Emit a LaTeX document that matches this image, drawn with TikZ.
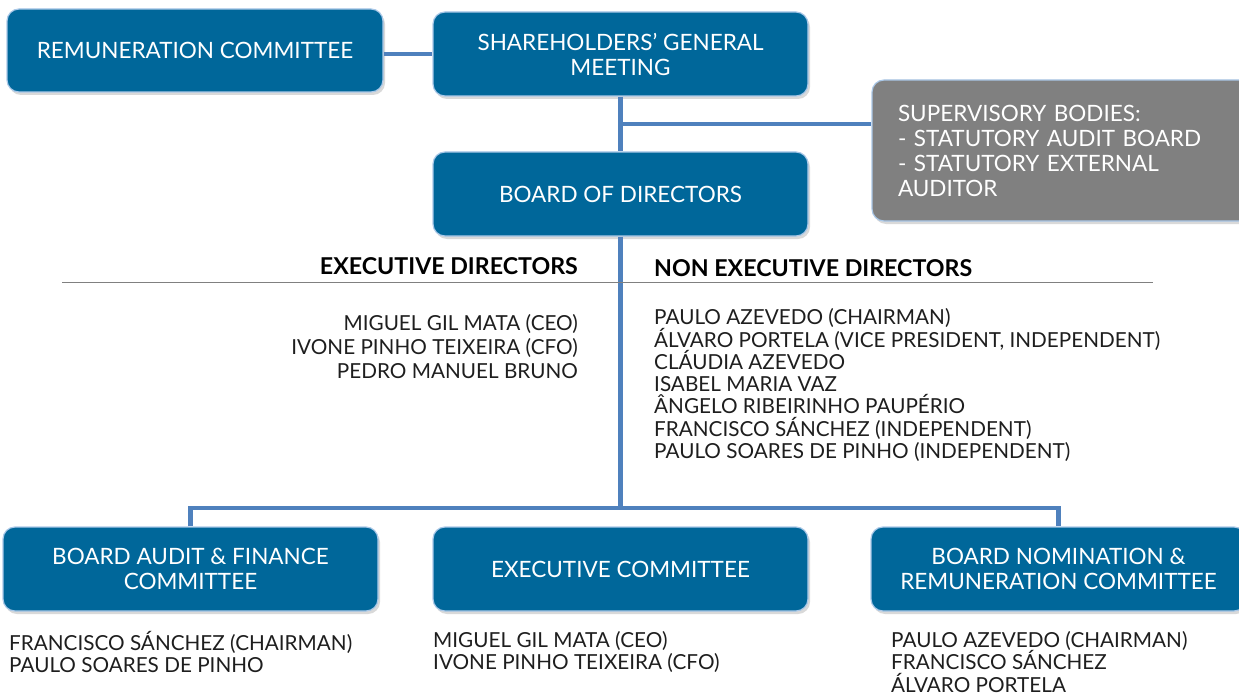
\documentclass[tikz,border=0pt]{standalone}
\usepackage{fontspec}
\setmainfont{Lato}
\usepackage{xcolor}
\usetikzlibrary{positioning,calc,shadows}

\definecolor{boxblue}{RGB}{0,103,154}
\definecolor{linkblue}{RGB}{79,129,189}
\definecolor{edgeblue}{RGB}{170,200,232}
\definecolor{supgray}{RGB}{128,128,128}
\definecolor{inkgray}{RGB}{30,30,30}

\tikzset{
    orgbox/.style={draw=edgeblue, line width=1.2pt, fill=boxblue, rounded corners=12pt,
        text=white, align=center, minimum width=375pt, minimum height=84pt,
        font=\fontsize{22.5}{25}\selectfont,
        drop shadow={opacity=0.3, shadow xshift=2pt, shadow yshift=-3pt}},
    link/.style={draw=linkblue, line width=4.5pt},
    names/.style={inner sep=0pt, text=inkgray, font=\fontsize{20.7}{22.5}\selectfont},
    header/.style={inner sep=0pt, text=black, font=\fontsize{23.2}{25}\selectfont\bfseries}
}

\begin{document}
\begin{tikzpicture}[x=1pt,y=-1pt]
    \useasboundingbox (0,0) rectangle (1239,695);

    % Top boxes
    \node[orgbox, minimum width=376pt, minimum height=83pt] (remun) at (195,50.5) {REMUNERATION COMMITTEE};
    \node[orgbox] (share) at (620.5,54) {SHAREHOLDERS’ GENERAL\\MEETING};
    \node[orgbox] (board) at (620.5,194) {BOARD OF DIRECTORS};
    \node[orgbox, fill=supgray, minimum width=390pt, minimum height=141pt,
          text width=338pt, align=left] (sup) at (1067,150.5)
          {SUPERVISORY BODIES:\\- STATUTORY AUDIT BOARD\\- STATUTORY EXTERNAL\\AUDITOR};

    % Committees
    \node[orgbox] (audit) at (190.5,569) {BOARD AUDIT \& FINANCE\\COMMITTEE};
    \node[orgbox] (exec) at (620.5,569) {EXECUTIVE COMMITTEE};
    \node[orgbox] (nomin) at (1058.5,569) {BOARD NOMINATION \&\\REMUNERATION COMMITTEE};

    % Connections
    \coordinate (mid) at ($(share.south)!0.5!(board.north)$);
    \coordinate (split) at (board.south |- 0,508);
    \draw[link] (remun.east |- share.west) -- (share.west);
    \draw[link] (share.south) -- (board.north);
    \draw[link] (mid) -- (sup.west |- mid);
    \draw[link] (board.south) -- (split);
    \draw[link, line join=miter] (audit.north) |- (split) -| (nomin.north);

    % Directors
    \draw[gray, line width=0.8pt] (62,282) -- (1153,282);
    \node[header, anchor=base east] (exechead) at (578,274) {EXECUTIVE DIRECTORS};
    \node[header, anchor=base west] (nonhead) at (654,276) {NON EXECUTIVE DIRECTORS};

    \node[names, anchor=north east, align=right, font=\fontsize{20.7}{24}\selectfont] (execnames) at (578,314.5)
        {MIGUEL GIL MATA (CEO)\\IVONE PINHO TEIXEIRA (CFO)\\PEDRO MANUEL BRUNO};
    \node[names, anchor=north west, align=left, font=\fontsize{20.7}{22.3}\selectfont] (nonnames) at (654,308.5)
        {PAULO AZEVEDO (CHAIRMAN)\\ÁLVARO PORTELA (VICE PRESIDENT, INDEPENDENT)\\CLÁUDIA AZEVEDO\\ISABEL MARIA VAZ\\ÂNGELO RIBEIRINHO PAUPÉRIO\\FRANCISCO SÁNCHEZ (INDEPENDENT)\\PAULO SOARES DE PINHO (INDEPENDENT)};

    % Committee members
    \node[names, anchor=north west, align=left] (auditnames) at (9,631)
        {FRANCISCO SÁNCHEZ (CHAIRMAN)\\PAULO SOARES DE PINHO};
    \node[names, anchor=north west, align=left] (execmembers) at (433,631)
        {MIGUEL GIL MATA (CEO)\\IVONE PINHO TEIXEIRA (CFO)};
    \node[names, anchor=north west, align=left] (nominnames) at (891,631)
        {PAULO AZEVEDO (CHAIRMAN)\\FRANCISCO SÁNCHEZ\\ÁLVARO PORTELA};
\end{tikzpicture}
\end{document}
